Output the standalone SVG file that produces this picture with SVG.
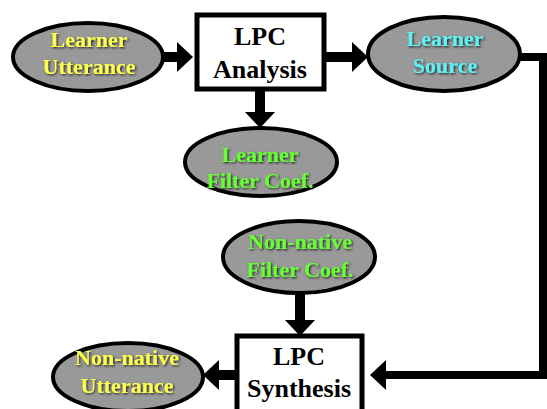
<svg xmlns="http://www.w3.org/2000/svg" width="547" height="409" viewBox="0 0 547 409">
<style>
.ell{fill:#999999;stroke:#000;stroke-width:4}
.box{fill:#fff;stroke:#000;stroke-width:5}
.t{font-family:"Liberation Serif","Times New Roman",serif;font-weight:bold;text-anchor:middle}
.et{font-size:22px;filter:url(#sh)}
.bt{font-size:26px;fill:#000}
.y{fill:#ffff4d}
.c{fill:#5ef2f2}
.g{fill:#66ff33}
.con{fill:none;stroke:#000;stroke-width:10;marker-end:url(#ah)}
</style>
<defs>
<filter id="sh" x="-20%" y="-20%" width="140%" height="140%">
<feDropShadow dx="1.2" dy="1.2" stdDeviation="0.8" flood-color="#000" flood-opacity="0.8"/>
</filter>
<marker id="ah" markerUnits="userSpaceOnUse" viewBox="0 0 16 30" refX="0" refY="15" markerWidth="16" markerHeight="30" orient="auto">
<path d="M0,0 L16,15 L0,30 z" fill="#000"/>
</marker>
</defs>
<g id="connectors">
<line class="con" x1="163" y1="57" x2="177" y2="57"/>
<line class="con" x1="325" y1="57" x2="352" y2="57"/>
<line class="con" x1="260" y1="91" x2="260" y2="112"/>
<line class="con" x1="300" y1="293" x2="300" y2="320"/>
<path class="con" style="stroke-width:8" d="M520,57 H543 V375 H386"/>
<line class="con" x1="236" y1="375" x2="219" y2="375"/>
</g>
<g id="learner-utterance">
<ellipse class="ell" cx="88" cy="57" rx="75" ry="34"/>
<text class="t et y" x="89" y="47">Learner</text>
<text class="t et y" x="89" y="74">Utterance</text>
</g>
<g id="lpc-analysis">
<rect class="box" x="197" y="15" width="127" height="74"/>
<text class="t bt" x="260" y="45">LPC</text>
<text class="t bt" x="260" y="78">Analysis</text>
</g>
<g id="learner-source">
<ellipse class="ell" cx="444" cy="54" rx="76" ry="37"/>
<text class="t et c" x="445" y="46">Learner</text>
<text class="t et c" x="445" y="73">Source</text>
</g>
<g id="learner-filter">
<ellipse class="ell" cx="261" cy="162" rx="76" ry="34"/>
<text class="t et g" x="260" y="162">Learner</text>
<text class="t et g" x="260" y="188">Filter Coef.</text>
</g>
<g id="nonnative-filter">
<ellipse class="ell" cx="299" cy="257" rx="76" ry="36"/>
<text class="t et g" x="300" y="249">Non-native</text>
<text class="t et g" x="300" y="277">Filter Coef.</text>
</g>
<g id="lpc-synthesis">
<rect class="box" x="237" y="336" width="125" height="80"/>
<text class="t bt" x="299" y="365">LPC</text>
<text class="t bt" x="299" y="397">Synthesis</text>
</g>
<g id="nonnative-utterance">
<ellipse class="ell" cx="128" cy="377" rx="75" ry="34"/>
<text class="t et y" x="127" y="365">Non-native</text>
<text class="t et y" x="127" y="393">Utterance</text>
</g>
</svg>
